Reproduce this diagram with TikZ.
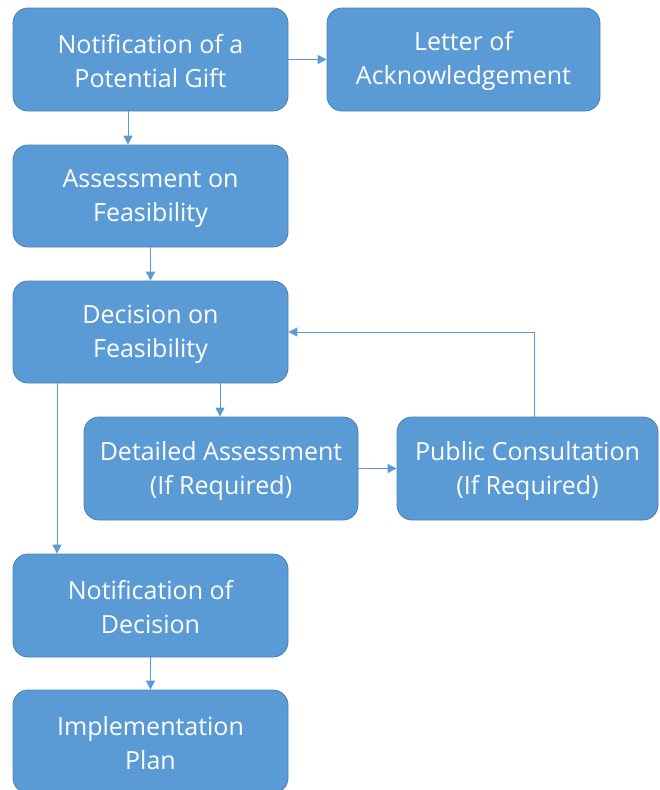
\documentclass[tikz,border=0pt]{standalone}
\usepackage{fontspec}
\setmainfont{Open Sans}
\usetikzlibrary{arrows.meta}
\definecolor{boxfill}{HTML}{5B9BD5}
\definecolor{boxline}{HTML}{4A80B8}
\definecolor{linkcol}{HTML}{5B9BD5}
% invisible strut that nudges each label slightly downward in its box
\newcommand{\toppad}{\rule{0pt}{23pt}}
\begin{document}
\begin{tikzpicture}[x=1pt,y=1pt,
  flowbox/.style={draw=boxline, line width=0.8pt, fill=boxfill, rounded corners=15pt,
    minimum height=103pt, text=white, align=center, inner sep=0pt,
    font=\fontsize{25}{34}\selectfont},
  arr/.style={draw=linkcol, line width=1pt, -{Triangle[length=9pt,width=9pt]}}]
\useasboundingbox (0,0) rectangle (659,-790);
\node[flowbox, minimum width=275pt] (b1) at (150.5,-59.5) {\toppad Notification of a\\Potential Gift};
\node[flowbox, minimum width=273pt] (b2) at (463.5,-59.5) {\toppad Letter of\\Acknowledgement};
\node[flowbox, minimum width=275pt, minimum height=102pt] (b3) at (150.5,-196) {\toppad Assessment on\\Feasibility};
\node[flowbox, minimum width=275pt, minimum height=102pt] (b4) at (150.5,-332) {\toppad Decision on\\Feasibility};
\node[flowbox, minimum width=274pt] (b5) at (221,-468.5) {\toppad Detailed Assessment\\(If Required)};
\node[flowbox, minimum width=261pt] (b6) at (527.5,-468.5) {\toppad Public Consultation\\(If Required)};
\node[flowbox, minimum width=275pt] (b7) at (150.5,-605.5) {\toppad Notification of\\Decision};
\node[flowbox, minimum width=275pt] (b8) at (150.5,-741.5) {\toppad Implementation\\Plan};
% connectors
\draw[arr] (b1.east) -- (b2.west);
\draw[arr] ([xshift=-22.5pt]b1.south) -- ([xshift=-22.5pt]b3.north);
\draw[arr] (b3.south) -- (b4.north);
\draw[arr] ([xshift=69.5pt]b4.south) -- ([xshift=-1pt]b5.north);
\draw[arr] ([xshift=-93.5pt]b4.south) -- ([xshift=-93.5pt]b7.north);
\draw[arr] (b5.east) -- (b6.west);
\draw[arr] ([xshift=6.5pt]b6.north) |- (b4.east);
\draw[arr] (b7.south) -- (b8.north);
\end{tikzpicture}
\end{document}
